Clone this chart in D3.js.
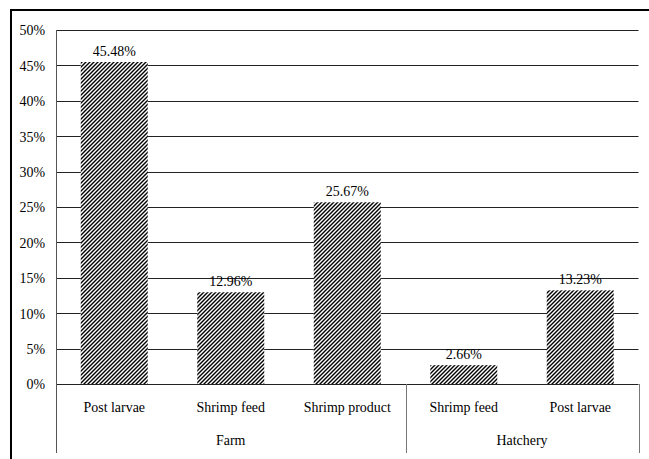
<!DOCTYPE html>
<html>
<head>
<meta charset="utf-8">
<script src="https://cdn.jsdelivr.net/npm/d3@7"></script>
<style>
  html, body { margin: 0; padding: 0; background: #fff; }
  svg { display: block; }
</style>
</head>
<body>
<svg id="chart" width="649" height="459" font-family="Liberation Serif"></svg>
<script>
// Share of samples by source, grouped by facility type
const categories = ["Post larvae", "Shrimp feed", "Shrimp product", "Shrimp feed", "Post larvae"];
const groups = ["Farm", "Farm", "Farm", "Hatchery", "Hatchery"];
const values = [45.48, 12.96, 25.67, 2.66, 13.23];
const yTicks = [0, 5, 10, 15, 20, 25, 30, 35, 40, 45, 50];

const svg = d3.select("#chart");
const W = 649, H = 459;
const plot = { left: 56, right: 638.5, top: 30, bottom: 384 };
const FAMILY = '"Liberation Serif"';
const SIZE = "15px";
const NARROW = 0.93; // slightly condensed lettering
const styleText = sel => sel
  .attr("font-family", "Liberation Serif")
  .style("font-family", FAMILY)
  .style("font-size", SIZE)
  .attr("fill", "#000");
const placeAt = (sel, fx, fy) => sel
  .attr("transform", d => `translate(${fx(d)},${fy(d)}) scale(${NARROW},1)`);

// Hatched fill for the bars
const defs = svg.append("defs");
const pat = defs.append("pattern")
  .attr("id", "hatch")
  .attr("patternUnits", "userSpaceOnUse")
  .attr("width", 4).attr("height", 4);
pat.append("rect").attr("width", 4).attr("height", 4).attr("fill", "#fff");
pat.append("path")
  .attr("d", "M-1,1 L1,-1 M0,4 L4,0 M3,5 L5,3")
  .attr("stroke", "#000")
  .attr("stroke-width", 1.4);

// Outer frame (top and left edges)
svg.append("line").attr("x1", 10).attr("x2", W).attr("y1", 10).attr("y2", 10)
  .attr("stroke", "#000").attr("stroke-width", 2);
svg.append("line").attr("x1", 11).attr("x2", 11).attr("y1", 9).attr("y2", H)
  .attr("stroke", "#000").attr("stroke-width", 2);

const idx = d3.range(categories.length);
const x = d3.scaleBand().domain(idx).range([plot.left, plot.right]).paddingInner(0.425).paddingOuter(0.2125);
const y = d3.scaleLinear().domain([0, 50]).range([plot.bottom, plot.top]);

// Gridlines
svg.append("g").selectAll("line").data(yTicks).join("line")
  .attr("x1", plot.left).attr("x2", plot.right)
  .attr("y1", d => Math.round(y(d)) + 0.5).attr("y2", d => Math.round(y(d)) + 0.5)
  .attr("stroke", "#222").attr("stroke-width", 1);

// Y axis labels
const yAxis = d3.axisLeft(y).tickValues(yTicks).tickFormat(d => d + "%").tickSize(0).tickPadding(11);
const gy = svg.append("g").attr("transform", `translate(${plot.left},0)`).call(yAxis);
gy.attr("font-family", "Liberation Serif").attr("font-size", null);
gy.select(".domain").remove();
gy.selectAll("text").call(styleText).attr("transform", `scale(${NARROW},1)`).attr("x", -11 / NARROW);

// Bars
svg.append("g").selectAll("rect").data(idx).join("rect")
  .attr("x", i => x(i))
  .attr("width", x.bandwidth())
  .attr("y", i => y(values[i]))
  .attr("height", i => y(0) - y(values[i]))
  .attr("fill", "url(#hatch)");

// Value labels
svg.append("g").selectAll("text").data(idx).join("text")
  .call(placeAt, i => x(i) + x.bandwidth() / 2, i => y(values[i]) - 6)
  .attr("text-anchor", "middle")
  .call(styleText)
  .text(i => values[i].toFixed(2) + "%");

// Axis frame below the plot: left edge, group separators, right edge
const step = x.step();
const groupNames = [...new Set(groups)];
const bounds = [plot.left];
groupNames.forEach(g => {
  const last = groups.lastIndexOf(g);
  bounds.push(Math.min(plot.left + step * (last + 1), plot.right));
});
svg.append("line").attr("x1", plot.left + 0.5).attr("x2", plot.left + 0.5)
  .attr("y1", plot.top).attr("y2", 453).attr("stroke", "#555").attr("stroke-width", 1);
bounds.slice(1).forEach(b => {
  svg.append("line").attr("x1", Math.round(b) + 0.5).attr("x2", Math.round(b) + 0.5)
    .attr("y1", plot.bottom).attr("y2", 453).attr("stroke", "#777").attr("stroke-width", 1);
});

// Category labels
svg.append("g").selectAll("text").data(idx).join("text")
  .call(placeAt, i => x(i) + x.bandwidth() / 2, () => 412)
  .attr("text-anchor", "middle")
  .call(styleText)
  .text(i => categories[i]);

// Group labels
svg.append("g").selectAll("text").data(groupNames.map((g, k) => k)).join("text")
  .call(placeAt, k => (bounds[k] + bounds[k + 1]) / 2, () => 445)
  .attr("text-anchor", "middle")
  .call(styleText)
  .text(k => groupNames[k]);
</script>
</body>
</html>
